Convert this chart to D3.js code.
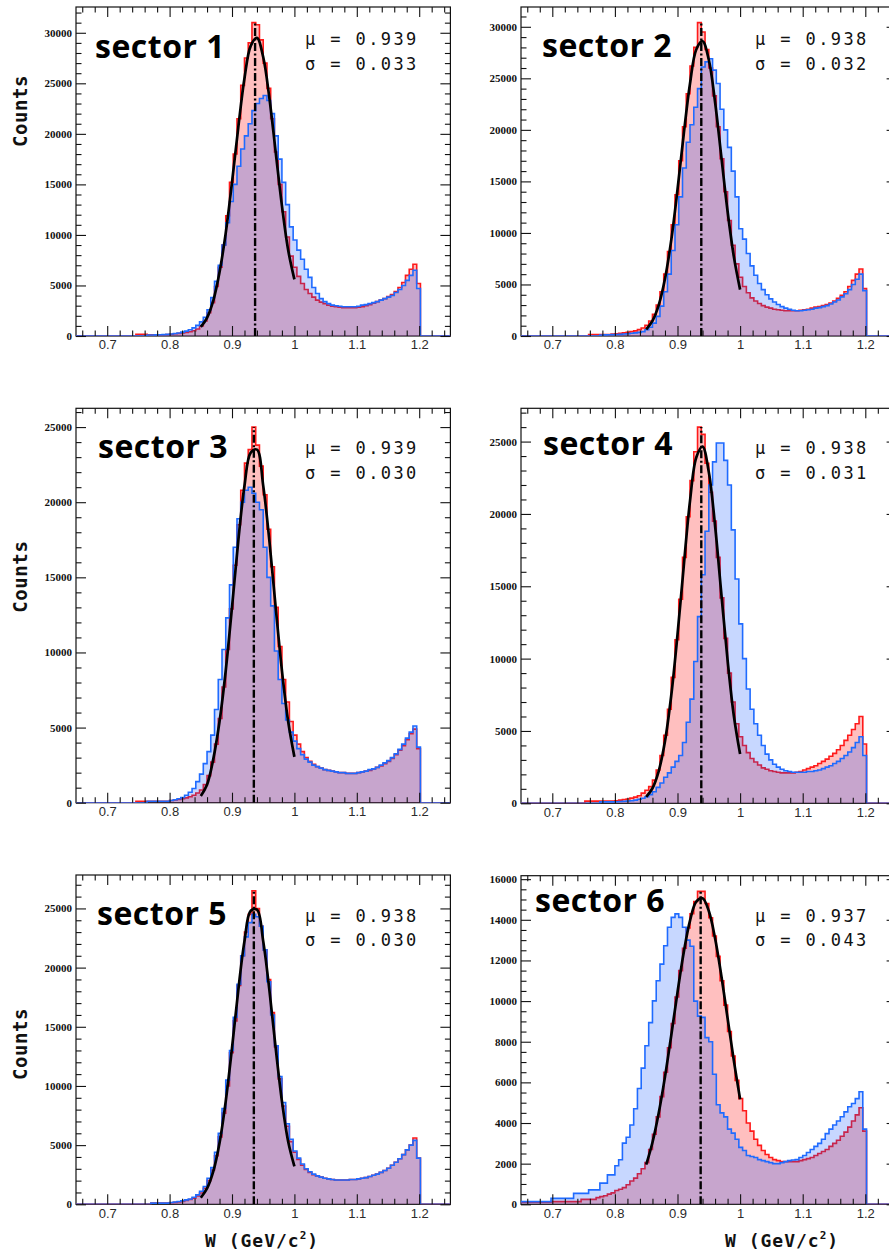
<!DOCTYPE html>
<html>
<head>
<meta charset="utf-8">
<script src="https://cdn.jsdelivr.net/npm/d3@7"></script>
<style>
  body { margin: 0; background: #fff; }
  svg  { display: block; }
</style>
</head>
<body>
<div id="chart"></div>
<script>

// W histograms per sector, bins of 0.006 GeV starting at 0.65 (red / blue)
var binStart = 0.65, binWidth = 0.006;

var red1 = [0,0,0,0,0,0,0,0,0,0,0,0,0,0,0,0,
  170,170,170,130,130,130,130,130,150,180, 220,260,300,350,420,520,700,1000,1500,2300,
  3300,4900,6800,9000,11900,15200,18000,21500,24800,27500, 29000,31000,30800,29300,27000,24500,21500,18200,15000,12300,
  9800,7900,6800,5900,5200,4600,4200,3850,3550,3350, 3200,3050,2950,2900,2850,2800,2800,2800,2800,2850,
  2900,3000,3100,3250,3400,3550,3700,3900,4100,4400, 4800,5300,6000,6600,7100,5200];
var blue1 = [0,0,0,0,0,0,0,0,0,0,0,0,0,0,0,0,
  0,0,0,100,100,110,120,140,160,200, 240,300,380,480,620,800,1050,1400,1850,2600,
  3800,5400,7000,9000,11200,13300,15000,16800,18500,19800, 21000,22300,23000,23500,23800,23300,22000,19800,17500,15200,
  13000,10800,9500,8500,7600,6600,5800,4800,4200,3700, 3400,3200,3050,3000,2950,2900,2900,2900,2900,2950,
  3050,3100,3200,3300,3400,3550,3700,3850,4000,4300, 4600,5000,5500,6000,6500,4700];

var red2 = [0,0,0,0,0,0,0,0,0,0,0,0,0,0,0,0,
  0,0,150,150,150,150,150,150,180,220, 260,300,350,420,500,620,780,1050,1450,2100,
  3000,4300,6000,8200,10800,13700,17000,20300,23500,26200, 28000,30400,29500,27800,26000,23300,20300,17200,14000,11200,
  8800,7000,5700,4800,4200,3700,3400,3150,2950,2800, 2700,2600,2550,2500,2450,2450,2450,2450,2500,2550,
  2600,2700,2800,2850,2950,3050,3200,3400,3650,3950, 4300,4800,5400,6000,6500,4600];
var blue2 = [0,0,0,0,0,0,0,0,0,0,0,0,0,0,0,0,
  0,0,0,0,0,100,110,120,130,140, 160,190,220,260,300,350,420,600,850,1250,
  1900,2900,4300,6000,8300,10800,13500,16300,18800,20500, 22200,24000,26100,26600,26900,25800,24500,22000,20000,18300,
  16000,13500,10400,9400,8000,6800,5900,5100,4500,4000, 3600,3300,3050,2850,2700,2600,2500,2450,2450,2500,
  2550,2600,2700,2750,2850,2950,3100,3300,3500,3800, 4100,4500,5000,5500,6000,4400];

var red3 = [0,0,0,0,0,0,0,0,0,0,0,0,0,0,0,0,
  100,100,100,100,100,100,100,100,100,150, 180,220,270,320,400,500,650,850,1200,1800,
  2700,3900,5600,7700,10200,12900,15800,18500,20800,22600, 23500,25000,23800,22400,20500,18200,15700,13000,10400,8200,
  6700,5400,4500,3900,3400,3000,2750,2550,2400,2300, 2200,2150,2100,2050,2000,2000,1950,1950,1950,2000,
  2050,2100,2150,2250,2350,2450,2600,2750,2950,3200, 3500,3800,4200,4600,4900,3600];
var blue3 = [0,0,0,0,0,0,0,0,0,0,0,0,0,0,0,0,
  0,0,0,100,100,100,100,100,100,150, 200,260,350,500,700,950,1400,1900,2600,3400,
  4500,6200,8200,10200,12300,14500,17000,18900,20000,20800, 21000,20600,20000,19500,17000,15000,13100,10100,8200,6600,
  5500,4700,4100,3600,3200,2900,2700,2500,2400,2300, 2200,2150,2100,2050,2000,2000,1950,1950,1950,2000,
  2050,2100,2200,2250,2350,2500,2650,2800,3000,3250, 3550,3900,4300,4700,5100,3700];

var red4 = [0,0,0,0,0,0,0,0,0,0,0,0,0,0,0,0,
  0,150,150,150,150,150,150,150,150,180, 220,260,300,360,430,520,700,900,1150,1600,
  2300,3300,4700,6500,8700,11300,14100,17000,19800,22300, 24300,26000,25500,23500,21500,19500,17000,14200,11400,9000,
  7000,5500,4600,4000,3500,3100,2850,2650,2450,2350, 2250,2200,2150,2100,2100,2100,2100,2150,2200,2300,
  2400,2500,2600,2750,2900,3050,3250,3450,3700,4000, 4350,4700,5100,5500,6000,4100];
var blue4 = [0,0,0,0,0,0,0,0,0,0,0,0,0,0,0,0,
  0,0,0,0,0,100,100,100,100,110, 120,140,160,180,220,280,350,450,600,800,
  1100,1400,1800,2100,2500,2900,3300,4200,5600,7200, 9800,12900,15800,18800,22000,23600,24900,24900,23700,22000,
  18900,15500,12400,10000,7900,6500,5500,4700,4000,3400, 3000,2700,2500,2350,2250,2200,2150,2150,2150,2150,
  2200,2200,2250,2300,2400,2500,2600,2750,2900,3100, 3300,3550,3850,4200,4600,3300];

var red5 = [0,0,0,0,0,0,0,0,0,0,0,0,0,0,0,0,
  0,0,0,0,100,100,100,100,100,130, 160,200,250,320,400,520,700,950,1350,2000,
  2900,4100,5700,7700,10000,12800,15500,18500,21000,23000, 24500,26500,25000,23500,21500,19000,16200,13300,10600,8300,
  6600,5300,4400,3800,3300,2950,2700,2500,2400,2300, 2200,2150,2100,2050,2050,2050,2050,2100,2100,2150,
  2200,2250,2350,2450,2550,2700,2850,3050,3300,3550, 3850,4200,4600,5000,5600,3900];
var blue5 = [0,0,0,0,0,0,0,0,0,0,0,0,0,0,0,0,
  0,0,0,0,100,100,100,100,100,150, 190,240,300,370,450,600,800,1100,1500,2200,
  3100,4400,6000,8100,10500,13000,15800,18600,21000,22600, 23800,24500,24300,23500,21500,18800,16000,13400,10800,8600,
  6800,5500,4500,3900,3400,3000,2750,2550,2400,2300, 2200,2150,2100,2050,2050,2050,2050,2100,2100,2150,
  2200,2250,2350,2450,2550,2700,2850,3050,3300,3550, 3850,4200,4600,5000,5400,3900];

var red6 = [100,100,100,100,100,100,100,100,130,130,130,130,130,130,130,130,
  240,240,240,240,330,380,420,500,560,680, 740,820,960,1150,1290,1500,1750,2050,2700,3450,
  4300,5300,6500,7700,8900,10200,11500,12600,13600,14300, 14900,15400,15400,14800,14100,13200,12200,11000,9800,8500,
  7300,6100,5200,4600,4000,3600,3200,2900,2650,2450, 2300,2200,2150,2100,2100,2100,2100,2100,2150,2200,
  2250,2300,2400,2500,2600,2700,2850,3000,3150,3350, 3550,3800,4100,4400,4750,3600];
var blue6 = [130,130,130,130,130,130,130,130,290,290,290,290,290,290,540,540,
  540,540,710,710,710,1040,1040,1450,1450,1900, 2190,3010,3300,3900,4700,5700,6700,7800,8940,10010,
  11000,11820,12720,13630,14120,14290,14120,13630,13000,12700, 10000,9260,9200,8200,8000,6400,4900,4500,4300,3700,
  3500,3200,2800,2650,2400,2350,2300,2200,2150,2100, 2050,2000,2000,2050,2100,2150,2180,2200,2300,2400,
  2550,2700,2850,3000,3200,3480,3700,3900,4100,4310, 4550,4800,4960,5200,5540,3700];

// gaussian fit curves, read at these W values
var fitW = [0.85,0.86,0.87,0.88,0.89,0.90,0.91,0.92,0.93,0.94,0.95,0.96,0.97,0.98,0.99,1.00];
var fit1 = [900,1800,3500,6300,10200,15200,20600,25500,28700,29500,27600,23500,18200,12900,8500,5600];
var fit2 = [650,1470,3000,5550,9300,14200,19600,24500,27800,28600,26800,22700,17400,12100,7700,4500];
var fit3 = [450,1200,2900,5400,8800,13000,17400,21100,23300,23500,21100,17400,13000,8800,5400,3050];
var fit4 = [440,1040,2230,4290,7450,11650,16400,20900,23900,24650,22900,19200,14500,9900,6050,3400];
var fit5 = [550,1340,2780,5180,8720,13200,18060,22240,24800,24900,22240,18060,13200,8720,5300,3200];
var fit6 = [1950,3040,4490,6270,8310,10430,12400,13960,14900,15060,14430,13090,11250,9160,7070,5170];

var sectorNames = ["sector 1","sector 2","sector 3","sector 4","sector 5","sector 6"];
var muText      = ["0.939","0.938","0.939","0.938","0.938","0.937"];
var sigmaText   = ["0.033","0.032","0.030","0.031","0.030","0.043"];
// where the dash-dot mean line sits on the W axis
var muLineW     = [0.937, 0.938, 0.935, 0.938, 0.935, 0.937];

var xTicks  = [0.7, 0.8, 0.9, 1, 1.1, 1.2];
var yTicks  = [[0,5000,10000,15000,20000,25000,30000],
               [0,5000,10000,15000,20000,25000,30000],
               [0,5000,10000,15000,20000,25000],
               [0,5000,10000,15000,20000,25000],
               [0,5000,10000,15000,20000,25000],
               [0,2000,4000,6000,8000,10000,12000,14000,16000]];
var yMinorStep = [1000,1000,1000,1000,1000,500];

var reds  = [red1, red2, red3, red4, red5, red6]
  , blues = [blue1, blue2, blue3, blue4, blue5, blue6]
  , fits  = [fit1, fit2, fit3, fit4, fit5, fit6];

// layout of the six frames (pixels)
var boxes = [
    {l: 76,  r: 450.4, t: 7,     b: 336,    lab: [19, 51],   mu: [229, 38]}
  , {l: 521, r: 896.6, t: 7,     b: 336,    lab: [21, 50],   mu: [234, 38]}
  , {l: 76,  r: 450.4, t: 408.3, b: 802.7,  lab: [22, 50],   mu: [229, 45.7]}
  , {l: 521, r: 896.6, t: 408.3, b: 803.3,  lab: [22, 46.7], mu: [234, 45.7]}
  , {l: 76,  r: 450.4, t: 875,   b: 1204.3, lab: [21, 50],   mu: [229, 46.7]}
  , {l: 521, r: 896.6, t: 875.7, b: 1204.3, lab: [14, 36],   mu: [234, 46]}
];
var countsY = [111, null, 576.7, null, 1044, null];

var width = 889, height = 1255
  , svg = d3.select("#chart").append("svg").attr("width", width).attr("height", height);

var xMinor = d3.range(0.66, 1.2401, 0.02).filter(function (v) {
    return Math.abs(v * 10 - Math.round(v * 10)) > 0.01; });

function histPoints(vals) {
    var p = vals.map(function (v, k) { return [binStart + binWidth * k, v]; });
    p.push([binStart + binWidth * vals.length, 0]);
    p.push([1.25, 0]);
    return p;
}

function styleTicks(g) {
    g.select(".domain").remove();
    g.selectAll(".tick line").attr("stroke", "#111").attr("stroke-width", 1.1);
}

boxes.forEach(function (box, i) {
    var x = d3.scaleLinear().domain([0.65, 1.25]).range([box.l, box.r])
      , ymax = d3.max(reds[i]) * 1.05
      , y = d3.scaleLinear().domain([0, ymax]).range([box.b, box.t])
      , g = svg.append("g");

    g.append("clipPath").attr("id", "clip" + i)
      .append("rect").attr("x", box.l).attr("y", box.t)
      .attr("width", box.r - box.l).attr("height", box.b - box.t);

    g.append("rect").attr("x", box.l).attr("y", box.t)
      .attr("width", box.r - box.l).attr("height", box.b - box.t)
      .attr("fill", "none").attr("stroke", "#111").attr("stroke-width", 1.2);

    var area = d3.area().curve(d3.curveStepAfter)
        .x(function (d) { return x(d[0]); }).y0(y(0)).y1(function (d) { return y(d[1]); });
    var line = d3.line().curve(d3.curveStepAfter)
        .x(function (d) { return x(d[0]); }).y(function (d) { return y(d[1]); });

    var plot = g.append("g").attr("clip-path", "url(#clip" + i + ")")
      , rp = histPoints(reds[i]), bp = histPoints(blues[i]);

    plot.append("path").attr("d", area(rp)).attr("fill", "#ff0000").attr("fill-opacity", 0.25);
    plot.append("path").attr("d", line(rp)).attr("fill", "none").attr("stroke", "#ff1a1a").attr("stroke-width", 1.6);
    plot.append("path").attr("d", area(bp)).attr("fill", "#0049ff").attr("fill-opacity", 0.22);
    plot.append("path").attr("d", line(bp)).attr("fill", "none").attr("stroke", "#1f6bff").attr("stroke-width", 1.6);

    var fitLine = d3.line().curve(d3.curveCatmullRom)
        .x(function (d, k) { return x(fitW[k]); }).y(function (d) { return y(d); });
    plot.append("path").attr("d", fitLine(fits[i])).attr("fill", "none")
      .attr("stroke", "#000").attr("stroke-width", 2.7);

    plot.append("line")
      .attr("x1", x(muLineW[i])).attr("x2", x(muLineW[i]))
      .attr("y1", y(0)).attr("y2", y(d3.max(reds[i])))
      .attr("stroke", "#000").attr("stroke-width", 2.4)
      .attr("stroke-dasharray", "8,2.5,2,2.5");

    // ticks: all point inwards
    var yMinor = d3.range(0, ymax, yMinorStep[i]).filter(function (v) { return yTicks[i].indexOf(v) < 0; });

    g.append("g").attr("transform", "translate(0," + box.b + ")")
      .call(d3.axisBottom(x).tickValues(xMinor).tickSize(-5.5).tickFormat("")).call(styleTicks);
    var xa = g.append("g").attr("transform", "translate(0," + box.b + ")")
      .call(d3.axisBottom(x).tickValues(xTicks).tickSize(-10).tickPadding(4)
            .tickFormat(function (d) { return String(d); })).call(styleTicks);
    xa.selectAll("text").attr("font-family", "'Liberation Sans', Arial, sans-serif")
      .attr("font-size", 13).attr("fill", "#2a2a2a");

    g.append("g").attr("transform", "translate(0," + box.t + ")")
      .call(d3.axisTop(x).tickValues(xMinor).tickSize(-5.5).tickFormat("")).call(styleTicks);
    g.append("g").attr("transform", "translate(0," + box.t + ")")
      .call(d3.axisTop(x).tickValues(xTicks).tickSize(-10).tickFormat("")).call(styleTicks);

    g.append("g").attr("transform", "translate(" + box.l + ",0)")
      .call(d3.axisLeft(y).tickValues(yMinor).tickSize(-5.5).tickFormat("")).call(styleTicks);
    var ya = g.append("g").attr("transform", "translate(" + box.l + ",0)")
      .call(d3.axisLeft(y).tickValues(yTicks[i]).tickSize(-10).tickPadding(4)
            .tickFormat(d3.format("d"))).call(styleTicks);
    ya.selectAll("text").attr("font-family", "'Liberation Serif', 'Times New Roman', serif")
      .attr("font-weight", "bold").attr("font-size", 11).attr("fill", "#111");

    g.append("g").attr("transform", "translate(" + box.r + ",0)")
      .call(d3.axisRight(y).tickValues(yMinor).tickSize(-5.5).tickFormat("")).call(styleTicks);
    g.append("g").attr("transform", "translate(" + box.r + ",0)")
      .call(d3.axisRight(y).tickValues(yTicks[i]).tickSize(-10).tickFormat("")).call(styleTicks);

    // labels
    g.append("text").attr("x", box.l + box.lab[0]).attr("y", box.t + box.lab[1])
      .attr("font-family", "'Open Sans', 'Noto Sans', sans-serif").attr("font-weight", 700)
      .attr("font-size", 32).attr("letter-spacing", 0.5).attr("fill", "#000").text(sectorNames[i]);

    var mono = "'DejaVu Sans Mono', monospace";
    g.append("text").attr("x", box.l + box.mu[0]).attr("y", box.t + box.mu[1])
      .attr("font-family", mono).attr("font-size", 17).attr("letter-spacing", 2.4)
      .attr("fill", "#111").text("\u03bc = " + muText[i]);
    g.append("text").attr("x", box.l + box.mu[0]).attr("y", box.t + box.mu[1] + 24.5)
      .attr("font-family", mono).attr("font-size", 17).attr("letter-spacing", 2.4)
      .attr("fill", "#111").text("\u03c3 = " + sigmaText[i]);

    if (countsY[i] !== null) {
        g.append("text").attr("transform", "translate(26.7," + countsY[i] + ") rotate(-90)")
          .attr("text-anchor", "middle").attr("font-family", mono).attr("font-weight", "bold")
          .attr("font-size", 19).attr("letter-spacing", 0.6).attr("fill", "#111").text("Counts");
    }

    if (i >= 4) {
        var wl = g.append("text").attr("x", box.l + (i === 4 ? 129 : 204)).attr("y", 1246.7)
          .attr("font-family", mono).attr("font-weight", "bold").attr("font-size", 18)
          .attr("letter-spacing", 1).attr("fill", "#111");
        wl.append("tspan").text("W (GeV/c");
        wl.append("tspan").attr("dy", -8).attr("font-size", 11).text("2");
        wl.append("tspan").attr("dy", 8).text(")");
    }
});

</script>
</body>
</html>
